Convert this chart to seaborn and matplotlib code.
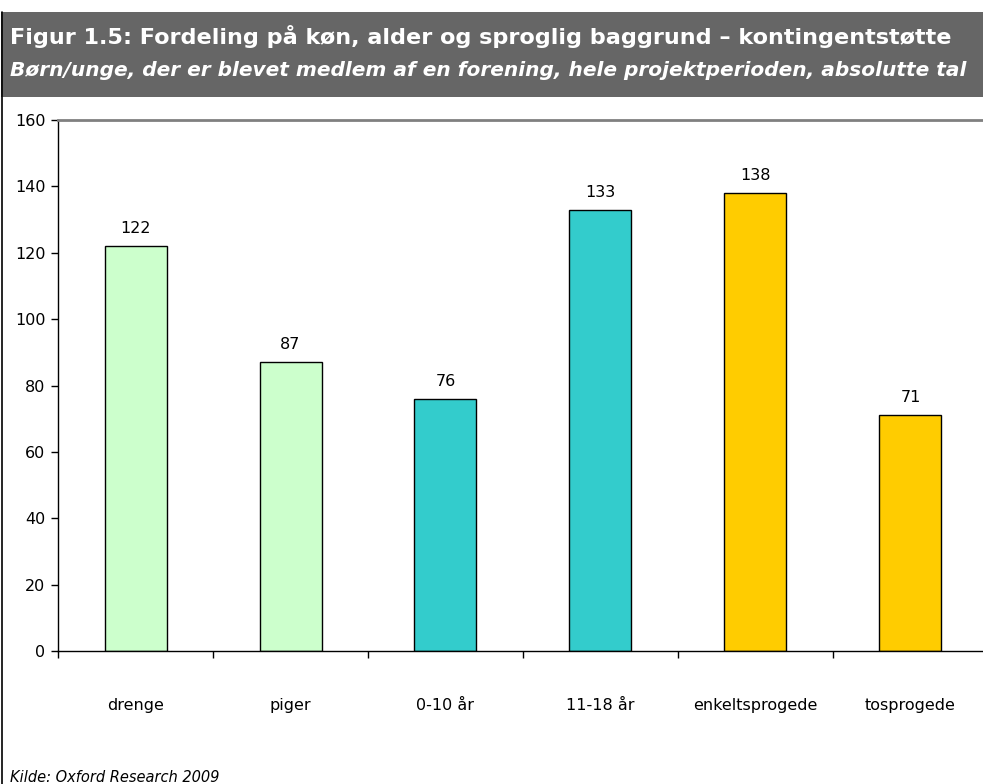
import pandas as pd
import matplotlib.pyplot as plt
import seaborn as sns
from matplotlib.ticker import FixedLocator, MultipleLocator
from matplotlib.lines import Line2D
from matplotlib.patches import Rectangle

# --- DATA
categories = ['drenge', 'piger', '0-10 år', '11-18 år', 'enkeltsprogede', 'tosprogede']
values = [122, 87, 76, 133, 138, 71]
bar_colors = ['#CCFFCC', '#CCFFCC', '#33CCCC', '#33CCCC', '#FFCC00', '#FFCC00']

title = 'Figur 1.5: Fordeling på køn, alder og sproglig baggrund – kontingentstøtte'
subtitle = 'Børn/unge, der er blevet medlem af en forening, hele projektperioden, absolutte tal'
source = 'Kilde: Oxford Research 2009'

df = pd.DataFrame({'cat': categories, 'val': values})

#%% --- PLOT
sns.set_style("white")
plt.rcParams['font.family'] = ['DejaVu Sans']

fig = plt.figure(figsize=(9.83, 7.84), dpi=100)
ax = fig.add_axes([58/983, 133/784, 930/983, 531/784])

sns.barplot(data=df, x='cat', y='val', hue='cat', palette=bar_colors,
            order=categories, hue_order=categories, legend=False,
            saturation=1, width=0.4, edgecolor='black', linewidth=1, ax=ax)

for p, v in zip(ax.patches, values):
    ax.text(p.get_x() + p.get_width()/2, v + 3, str(v),
            ha='center', va='bottom', fontsize=11.5, color='black')

ax.set_ylim(0, 160)
ax.set_xlim(-0.5, 5.5)
ax.yaxis.set_major_locator(MultipleLocator(20))
ax.set_xlabel('')
ax.set_ylabel('')

# tick marks between categories
ax.xaxis.set_minor_locator(FixedLocator([i - 0.5 for i in range(7)]))
ax.tick_params(axis='x', which='major', bottom=True, length=0, labelsize=11.5,
               labelcolor='black', pad=34)
ax.tick_params(axis='x', which='minor', bottom=True, length=5, width=1,
               color='black', direction='out')
ax.tick_params(axis='y', which='major', left=True, length=5, width=1, color='black',
               direction='out', labelsize=11.5, labelcolor='black', pad=4)

for s in ['left', 'bottom']:
    ax.spines[s].set_color('black')
    ax.spines[s].set_linewidth(1)
ax.spines['right'].set_visible(False)
ax.spines['top'].set_color('#808080')
ax.spines['top'].set_linewidth(2)

# header band
fig.patches.append(Rectangle((0.001, 1 - 97/784), 0.999, 85/784,
                             transform=fig.transFigure, facecolor='#666666',
                             edgecolor='none', zorder=0))
fig.text(10/983, 1 - 36/784, title, color='white', fontsize=16.1,
         fontweight='bold', va='center', ha='left')
fig.text(10/983, 1 - 70/784, subtitle, color='white', fontsize=14.5,
         fontweight='bold', style='italic', va='center', ha='left')

# left frame line
fig.lines.append(Line2D([1.5/983, 1.5/983], [0, 1 - 12/784],
                        transform=fig.transFigure, color='black', linewidth=1.2))

fig.text(10/983, 1 - 778/784, source, fontsize=10.5, style='italic',
         va='center', ha='left', color='black')

plt.savefig('out.png', dpi=100)
